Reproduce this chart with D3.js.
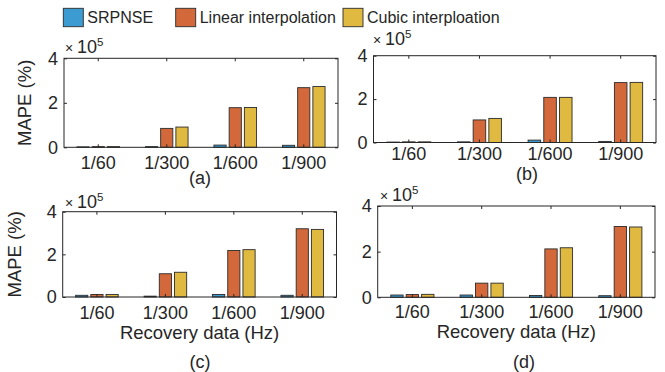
<!DOCTYPE html>
<html>
<head>
<meta charset="utf-8">
<script src="https://cdn.jsdelivr.net/npm/d3@7"></script>
<style>
  body { margin: 0; background: #fff; }
  svg { display: block; }
  text { font-family: "Liberation Sans", Arial, Helvetica, sans-serif; fill: #262626; }
</style>
</head>
<body>
<svg id="chart" width="665" height="372"></svg>
<script>
// Recovery sampling rates and methods
const categories = ["1/60", "1/300", "1/600", "1/900"];
const seriesNames = ["SRPNSE", "Linear interpolation", "Cubic interploation"];
const seriesColors = ["#3C9BD0", "#D3693A", "#E0B940"];
const yTicks = [0, 200000, 400000];
const panelTags = ["(a)", "(b)", "(c)", "(d)"];
const yTitle = "MAPE (%)";
const xTitle = "Recovery data (Hz)";

// MAPE (%) for each panel, one array per method
const srpnseA = [2000, 3000, 10000, 9000];
const linearA = [3000, 85000, 178000, 268000];
const cubicA  = [3000, 91000, 179000, 273000];

const srpnseB = [2000, 3000, 11000, 5000];
const linearB = [3000, 104000, 208000, 276000];
const cubicB  = [3000, 111000, 208000, 277000];

const srpnseC = [8000, 4000, 12000, 8000];
const linearC = [12000, 109000, 218000, 320000];
const cubicC  = [12000, 116000, 222000, 317000];

const srpnseD = [10000, 10000, 8000, 7000];
const linearD = [12000, 62000, 212000, 310000];
const cubicD  = [13000, 62000, 217000, 308000];

const panelData = [
  [srpnseA, linearA, cubicA],
  [srpnseB, linearB, cubicB],
  [srpnseC, linearC, cubicC],
  [srpnseD, linearD, cubicD]
];

// Placement of the four sub-axes
const layout = [
  { x0: 64,    x1: 338,   y0: 58.3,  y1: 147.3, tickMid: 162.5, yLab: 25,   xLab: null,  tag: [200, 177.5], mult: [65, 53] },
  { x0: 373.5, x1: 656,   y0: 55.7,  y1: 142.5, tickMid: 154,   yLab: null, xLab: null,  tag: [527, 174],   mult: [373, 45] },
  { x0: 62.7,  x1: 336.5, y0: 211.7, y1: 297,   tickMid: 312.5, yLab: 15,   xLab: 333,   tag: [200, 361.5], mult: [65, 208] },
  { x0: 377.7, x1: 655,   y0: 206,   y1: 297.3, tickMid: 311.7, yLab: null, xLab: 331.5, tag: [524, 361.5], mult: [380, 201] }
];

const svg = d3.select("#chart");
const axisColor = "#262626";
const tickFont = 18;

layout.forEach((L, i) => {
  const g = svg.append("g");
  const x = d3.scaleBand().domain(categories).range([L.x0, L.x1]).padding(0);
  const bw = x.bandwidth();
  // grouped bars: 3 bars share 2/3 of a category slot, each bar 80% of its sub-slot
  const xs = d3.scaleBand().domain(d3.range(seriesNames.length))
    .range([-bw / 3, bw / 3]).paddingInner(0.2).paddingOuter(0.1);
  const y = d3.scaleLinear().domain([0, 400000]).range([L.y1, L.y0]);

  const rows = [];
  panelData[i].forEach((vals, s) => vals.forEach((v, c) => rows.push({ s, c, v })));

  g.selectAll("rect.bar").data(rows).enter().append("rect")
    .attr("class", "bar")
    .attr("x", d => x(categories[d.c]) + bw / 2 + xs(d.s))
    .attr("width", xs.bandwidth())
    .attr("y", d => y(d.v))
    .attr("height", d => y(0) - y(d.v))
    .attr("fill", d => seriesColors[d.s])
    .attr("stroke", "#2b2b2b")
    .attr("stroke-width", 0.9);

  const styleAxis = sel => {
    sel.select(".domain").remove();
    sel.selectAll(".tick line").attr("stroke", axisColor).attr("stroke-width", 1);
    sel.selectAll(".tick text").attr("fill", axisColor).style("font-size", tickFont + "px")
      .style("font-family", '"Liberation Sans", Arial, sans-serif');
  };

  // bottom axis with labels, inward ticks
  const pad = L.tickMid - L.y1 - 6.5;
  g.append("g").attr("transform", `translate(0,${L.y1})`)
    .call(d3.axisBottom(x).tickSizeInner(-3).tickSizeOuter(0).tickPadding(pad))
    .call(styleAxis);
  // top axis ticks only
  g.append("g").attr("transform", `translate(0,${L.y0})`)
    .call(d3.axisTop(x).tickSizeInner(-3).tickSizeOuter(0).tickFormat(""))
    .call(styleAxis);
  // left axis, values shown in units of 10^5
  g.append("g").attr("transform", `translate(${L.x0},0)`)
    .call(d3.axisLeft(y).tickValues(yTicks).tickFormat(v => v / 1e5).tickSizeInner(-3).tickSizeOuter(0).tickPadding(6))
    .call(styleAxis);
  // right axis ticks only
  g.append("g").attr("transform", `translate(${L.x1},0)`)
    .call(d3.axisRight(y).tickValues(yTicks).tickFormat("").tickSizeInner(-3).tickSizeOuter(0))
    .call(styleAxis);

  // axes box
  g.append("rect")
    .attr("x", L.x0).attr("y", L.y0)
    .attr("width", L.x1 - L.x0).attr("height", L.y1 - L.y0)
    .attr("fill", "none").attr("stroke", axisColor).attr("stroke-width", 1);

  // exponent multiplier
  const m = g.append("text").attr("x", L.mult[0]).attr("y", L.mult[1]).style("font-size", "18px");
  m.append("tspan").text("× ").style("font-size", "14px");
  m.append("tspan").text("10");
  m.append("tspan").text("5").attr("dy", -7).style("font-size", "11.5px");

  if (L.yLab !== null) {
    g.append("text")
      .attr("transform", `translate(${L.yLab},${(L.y0 + L.y1) / 2}) rotate(-90)`)
      .attr("text-anchor", "middle").attr("dy", "0.35em")
      .style("font-size", "18.5px").text(yTitle);
  }
  if (L.xLab !== null) {
    g.append("text")
      .attr("x", (L.x0 + L.x1) / 2).attr("y", L.xLab)
      .attr("text-anchor", "middle").attr("dy", "0.35em")
      .style("font-size", "18.5px").text(xTitle);
  }
  g.append("text")
    .attr("x", L.tag[0]).attr("y", L.tag[1])
    .attr("text-anchor", "middle").attr("dy", "0.35em")
    .style("font-size", "18px").text(panelTags[i]);
});

// legend
const legendX = [63.3, 175.7, 343];
const legend = svg.append("g");
seriesNames.forEach((name, s) => {
  legend.append("rect")
    .attr("x", legendX[s]).attr("y", 8.3).attr("width", 20).attr("height", 18.4)
    .attr("fill", seriesColors[s]).attr("stroke", "#2b2b2b").attr("stroke-width", 0.9);
  legend.append("text")
    .attr("x", legendX[s] + 24).attr("y", 17.5).attr("dy", "0.36em")
    .style("font-size", "16px").text(name);
});
</script>
</body>
</html>
